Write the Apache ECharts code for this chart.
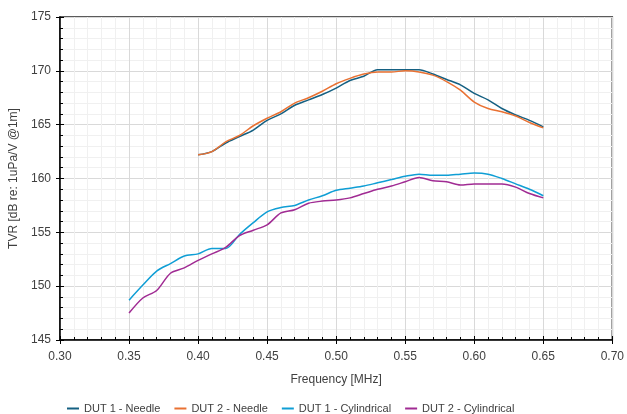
<!DOCTYPE html>
<html style="height: 100%">
<head>
	<meta charset="UTF-8">
	<title>TVR</title>
	<script src="https://cdn.jsdelivr.net/npm/echarts@6/dist/echarts.min.js"></script>
</head>
<body style="height: 100%; margin: 0; background: #fff">
	<div id="container" style="width: 627px; height: 414px;"></div>
<script type="text/javascript">
	// frequencies [MHz]
	var freqNeedle = [0.40, 0.41, 0.42, 0.43, 0.44, 0.45, 0.46, 0.47, 0.48, 0.49, 0.50, 0.51, 0.52,
		0.53, 0.54, 0.55, 0.56, 0.57, 0.58, 0.59, 0.60, 0.61, 0.62, 0.63, 0.64, 0.65];
	var freqCyl = [0.35, 0.36, 0.37, 0.38, 0.39, 0.40, 0.41, 0.42, 0.43, 0.44, 0.45, 0.46, 0.47, 0.48,
		0.49, 0.50, 0.51, 0.52, 0.53, 0.54, 0.55, 0.56, 0.57, 0.58, 0.59, 0.60, 0.61, 0.62, 0.63, 0.64, 0.65];

	// TVR [dB re: 1uPa/V @1m]
	var dut1Needle = [162.2, 162.5, 163.3, 163.9, 164.5, 165.4, 166.0, 166.8, 167.3, 167.8, 168.4, 169.1, 169.5,
		170.1, 170.1, 170.1, 170.1, 169.7, 169.2, 168.7, 167.9, 167.3, 166.5, 165.9, 165.4, 164.8];
	var dut2Needle = [162.2, 162.5, 163.4, 164.0, 164.9, 165.6, 166.2, 167.0, 167.5, 168.1, 168.8, 169.3, 169.7,
		169.9, 169.9, 170.0, 169.9, 169.6, 169.0, 168.2, 167.1, 166.5, 166.2, 165.8, 165.2, 164.7];
	var dut1Cyl = [148.7, 150.1, 151.4, 152.1, 152.8, 153.0, 153.5, 153.5, 154.8, 155.9, 156.9, 157.3, 157.5, 158.0,
		158.4, 158.9, 159.1, 159.3, 159.6, 159.9, 160.2, 160.4, 160.3, 160.3, 160.4, 160.5, 160.4, 160.0, 159.5, 159.0, 158.4];
	var dut2Cyl = [147.5, 148.9, 149.6, 151.2, 151.7, 152.4, 153.0, 153.6, 154.7, 155.2, 155.7, 156.8, 157.1, 157.7,
		157.9, 158.0, 158.2, 158.6, 159.0, 159.3, 159.7, 160.1, 159.8, 159.7, 159.4, 159.5, 159.5, 159.5, 159.2, 158.6, 158.2];

	var xTicks = { min: 0.30, max: 0.70, interval: 0.05 };
	var yTicks = { min: 145, max: 175, interval: 5 };

	function pairs(xs, ys) {
		return xs.map(function (x, i) { return [x, ys[i]]; });
	}

	var font = 'Liberation Sans';
	var textColor = '#404040';

	var dom = document.getElementById('container');
	var myChart = echarts.init(dom, null, { renderer: 'canvas' });

	function mkSeries(name, color, xs, ys) {
		return {
			name: name,
			type: 'line',
			data: pairs(xs, ys),
			smooth: 0.3,
			showSymbol: false,
			symbol: 'none',
			color: color,
			lineStyle: { width: 1.5, color: color }
		};
	}

	var option = {
		animation: false,
		grid: {
			left: 59, right: 14, top: 17, bottom: 74,
			show: true, borderColor: '#262626', borderWidth: 1.5
		},
		legend: {
			left: 62, top: 398,
			itemWidth: 12, itemHeight: 2, itemGap: 14,
			icon: 'rect',
			textStyle: { fontFamily: font, fontSize: 11, color: textColor },
			data: ['DUT 1 - Needle', 'DUT 2 - Needle', 'DUT 1 - Cylindrical', 'DUT 2 - Cylindrical']
		},
		xAxis: [{
			type: 'value',
			min: xTicks.min, max: xTicks.max, interval: xTicks.interval,
			name: 'Frequency [MHz]', nameLocation: 'middle', nameGap: 34,
			nameTextStyle: { fontFamily: font, fontSize: 12, color: textColor },
			axisLine: { show: true, lineStyle: { color: '#000', width: 1.5 } },
			axisTick: { show: true, inside: true, length: 4, lineStyle: { color: '#000' } },
			minorTick: { show: true, splitNumber: 5, length: 3, lineStyle: { color: '#000' } },
			axisLabel: {
				margin: 11, fontFamily: font, fontSize: 12, color: textColor,
				formatter: function (v) { return v.toFixed(2); }
			},
			splitLine: { show: true, lineStyle: { color: '#d9d9d9', width: 1 } },
			minorSplitLine: { show: true, lineStyle: { color: '#f0f0f0', width: 1 } }
		}, {
			// outward half of the major ticks
			type: 'value', position: 'bottom',
			min: xTicks.min, max: xTicks.max, interval: xTicks.interval,
			axisLine: { show: false },
			axisTick: { show: true, inside: false, length: 4, lineStyle: { color: '#000' } },
			axisLabel: { show: false },
			splitLine: { show: false }
		}],
		yAxis: [{
			type: 'value',
			min: yTicks.min, max: yTicks.max, interval: yTicks.interval,
			name: 'TVR [dB re: 1uPa/V @1m]', nameLocation: 'middle', nameGap: 40,
			nameTextStyle: { fontFamily: font, fontSize: 12, color: textColor },
			axisLine: { show: true, lineStyle: { color: '#000', width: 1.5 } },
			axisTick: { show: true, inside: true, length: 4, lineStyle: { color: '#000' } },
			minorTick: { show: true, splitNumber: 5, length: 3, lineStyle: { color: '#000' } },
			axisLabel: { margin: 9, fontFamily: font, fontSize: 12, color: textColor },
			splitLine: { show: true, lineStyle: { color: '#d9d9d9', width: 1 } },
			minorSplitLine: { show: true, lineStyle: { color: '#f0f0f0', width: 1 } }
		}, {
			type: 'value', position: 'left',
			min: yTicks.min, max: yTicks.max, interval: yTicks.interval,
			axisLine: { show: false },
			axisTick: { show: true, inside: false, length: 4, lineStyle: { color: '#000' } },
			axisLabel: { show: false },
			splitLine: { show: false }
		}],
		series: [
			mkSeries('DUT 1 - Needle', '#156082', freqNeedle, dut1Needle),
			mkSeries('DUT 2 - Needle', '#E97132', freqNeedle, dut2Needle),
			mkSeries('DUT 1 - Cylindrical', '#0F9ED5', freqCyl, dut1Cyl),
			mkSeries('DUT 2 - Cylindrical', '#A02B93', freqCyl, dut2Cyl)
		]
	};

	if (option && typeof option === 'object') {
		myChart.setOption(option, true);
	}
</script>
</body>
</html>
